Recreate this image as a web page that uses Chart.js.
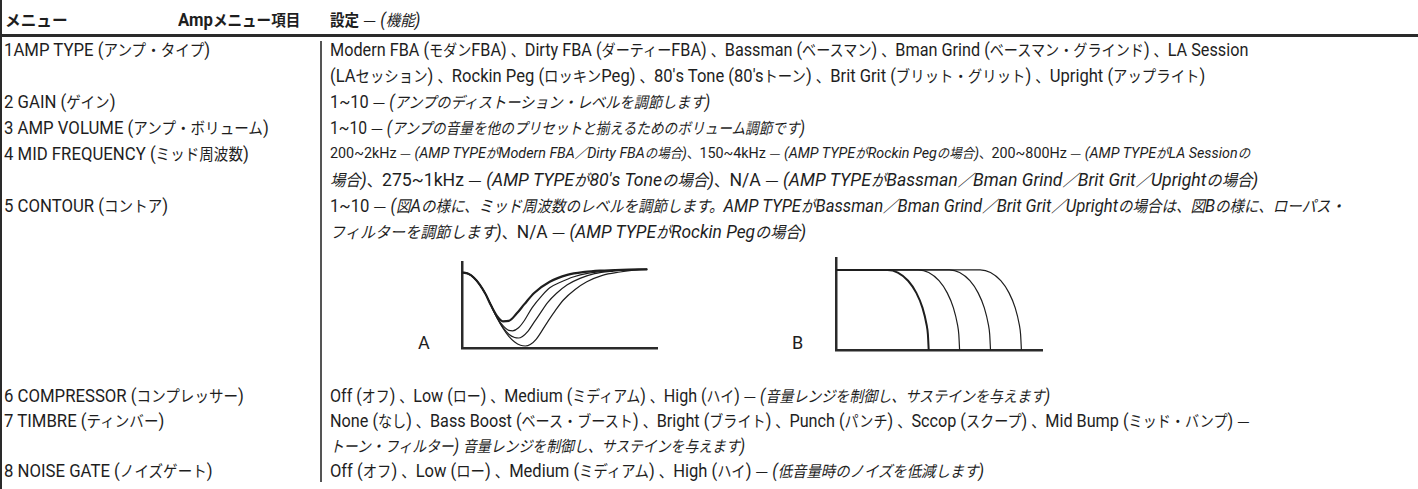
<!DOCTYPE html>
<html>
<head>
<meta charset="utf-8">
<script src="https://cdn.jsdelivr.net/npm/chart.js@4.4.1/dist/chart.umd.min.js"></script>
<style>
html, body { margin: 0; padding: 0; background: #fff; }
body { width: 1418px; height: 489px; position: relative; overflow: hidden;
       font-family: "Roboto", "Noto Sans CJK JP", sans-serif; color: #1e1e1e; }
.t { position: absolute; white-space: nowrap; line-height: 1; font-size: 18px; transform-origin: 0 50%; }
.t i { font-style: italic; }
.t b { font-weight: bold; }
.t .j { font-size: 0.87em; }
.t .d { font-family: "Noto Sans CJK JP"; font-size: 0.85em; font-style: normal; }
.rule { position: absolute; background: #2a2a2a; }
.chartBox { position: absolute; }
</style>
</head>
<body>
<div class="rule" style="left:0;top:0;width:2px;height:489px"></div>
<div class="rule" style="left:0;top:34px;width:1418px;height:3px"></div>
<div class="rule" style="left:320px;top:41px;width:2px;height:441px;background:#555"></div>

<div class="chartBox" id="boxA"><canvas id="chartA"></canvas></div>
<div class="chartBox" id="boxB"><canvas id="chartB"></canvas></div>

<script>
// left column labels
const menuLabels = [
  "1AMP TYPE (アンプ・タイプ)",
  "2 GAIN (ゲイン)",
  "3 AMP VOLUME (アンプ・ボリューム)",
  "4 MID FREQUENCY (ミッド周波数)",
  "5 CONTOUR (コントア)",
  "6 COMPRESSOR (コンプレッサー)",
  "7 TIMBRE (ティンバー)",
  "8 NOISE GATE (ノイズゲート)"
];

// right column, each line is a list of [text, italic]
const settingLines = [
  [["Modern FBA (モダンFBA) 、Dirty FBA (ダーティーFBA) 、Bassman (ベースマン) 、Bman Grind (ベースマン・グラインド) 、LA Session", 0]],
  [[" (LAセッション) 、Rockin Peg (ロッキンPeg) 、80's Tone (80'sトーン) 、Brit Grit (ブリット・グリット) 、Upright (アップライト)", 0]],
  [["1~10 — ", 0], ["(アンプのディストーション・レベルを調節します)", 1]],
  [["1~10 — ", 0], ["(アンプの音量を他のプリセットと揃えるためのボリューム調節です)", 1]],
  [["200~2kHz — ", 0], ["(AMP TYPEがModern FBA／Dirty FBAの場合)", 1], ["、150~4kHz — ", 0], ["(AMP TYPEがRockin Pegの場合)", 1], ["、200~800Hz — ", 0], ["(AMP TYPEがLA Sessionの", 1]],
  [["場合)", 1], ["、275~1kHz — ", 0], ["(AMP TYPEが80's Toneの場合)", 1], ["、N/A — ", 0], ["(AMP TYPEがBassman／Bman Grind／Brit Grit／Uprightの場合)", 1]],
  [["1~10 — ", 0], ["(図Aの様に、ミッド周波数のレベルを調節します。AMP TYPEがBassman／Bman Grind／Brit Grit／Uprightの場合は、図Bの様に、ローパス・", 1]],
  [["フィルターを調節します)", 1], ["、N/A — ", 0], ["(AMP TYPEがRockin Pegの場合)", 1]],
  [["Off (オフ) 、Low (ロー) 、Medium (ミディアム) 、High (ハイ)  — ", 0], ["(音量レンジを制御し、サステインを与えます)", 1]],
  [["None (なし) 、Bass Boost (ベース・ブースト) 、Bright (ブライト) 、Punch (パンチ) 、Sccop (スクープ)  、Mid Bump (ミッド・バンプ) —", 0]],
  [["トーン・フィルター) 音量レンジを制御し、サステインを与えます)", 1]],
  [["Off (オフ) 、Low (ロー) 、Medium (ミディアム) 、High (ハイ)  — ", 0], ["(低音量時のノイズを低減します)", 1]]
];

// figure A: contour curves (x 0-100, y 0-100)
const aX1 = [0, 3, 6, 9, 12, 15, 18, 21, 24, 28, 32, 37, 45, 54, 63, 71, 82, 95];
const aY1 = [88, 86.5, 82, 74, 63, 49, 37, 31, 31.5, 40, 51, 64, 77, 85, 88.5, 90, 91, 91.5];
const aX2 = [0, 3, 6, 9, 12, 15, 18, 21, 24, 26, 29, 32, 36, 41, 45, 51, 57, 65, 74, 84, 95];
const aY2 = [88, 86.5, 82, 74, 63, 49, 35.5, 26, 20.5, 20, 23.5, 32, 47, 61, 70, 77, 82.6, 87, 89.5, 90.8, 91.5];
const aX3 = [0, 3, 6, 9, 12, 15, 18, 21, 24, 27, 29, 31, 34, 37, 40, 44, 48.5, 54, 60.5, 68, 77.6, 86, 95];
const aY3 = [88, 86.5, 82, 74, 63, 49, 35, 24, 16, 12.2, 11.6, 13.5, 20, 30, 40, 53, 63.6, 73.5, 81, 86.5, 89.5, 90.9, 91.5];
const aX4 = [0, 3, 6, 9, 12, 15, 18, 21, 24, 27, 30, 32.5, 35, 38, 43.5, 48, 52, 58, 64, 72, 81, 88, 95];
const aY4 = [88, 86.5, 82, 74, 63, 49, 35, 23, 13.5, 7, 3.2, 2.3, 4, 10, 29, 44, 55.8, 68, 77, 84.5, 88.4, 90.6, 91.5];

// figure B: low pass curves
const bX1 = [0, 25, 30, 35, 39, 42, 44, 44.6, 45];
const bX2 = [0, 40, 45, 50, 54, 57, 59, 59.6, 60];
const bX3 = [0, 55, 60, 65, 69, 72, 74, 74.6, 75];
const bX4 = [0, 70, 75, 80, 84, 87, 89, 89.6, 90];
const bY = [87, 87, 84.2, 75.3, 62.1, 45.8, 27.2, 17.3, 0];

// layout
const rowY = [50, 76, 102, 128, 154, 180, 206, 232, 396, 421, 446, 471];
const menuRow = [0, 2, 3, 4, 6, 8, 9, 11];
const lineEnd = [1248, 1205, 710, 805, 1250, 1258, 1345, 806, 1050, 1250, 745, 984];
const lineSize = [18, 18, 18, 18, 15.5, 18.5, 18.5, 18.5, 18, 18, 18, 18];

function wrapCJK(s) {
  return s.replace(/([\u3000-\u30ff\u3400-\u9fff\uff00-\uffef]+)/g, '<span class="j">$1</span>')
          .replace(/—/g, '<span class="d">—</span>');
}

function addText(html, x, y) {
  const d = document.createElement("div");
  d.className = "t";
  d.innerHTML = html;
  d.style.left = x + "px";
  d.style.top = (y - 9) + "px";
  document.body.appendChild(d);
  return d;
}

const leftK = 0.93;
addText("<b>" + wrapCJK("メニュー") + "</b>", 5, 20);
const ampHead = addText("<b>Amp" + wrapCJK("メニュー項目") + "</b>", 0, 20);
ampHead.style.transform = "scaleX(" + leftK + ")";
ampHead.style.left = (300 - ampHead.offsetWidth * leftK) + "px";
addText("<b>" + wrapCJK("設定") + "</b> " + wrapCJK("—") + " <i>(" + wrapCJK("機能") + ")</i>", 330, 20)
  .style.transform = "scaleX(" + leftK + ")";
menuLabels.forEach((s, i) => {
  addText(wrapCJK(s), 4, rowY[menuRow[i]]).style.transform = "scaleX(" + leftK + ")";
});

settingLines.forEach((segs, i) => {
  const html = segs.map(p => p[1] ? "<i>" + wrapCJK(p[0]) + "</i>" : wrapCJK(p[0])).join("");
  const el = addText(html, 330, rowY[i]);
  el.style.fontSize = lineSize[i] + "px";
  el.style.top = (rowY[i] - lineSize[i] / 2) + "px";
  el.style.transform = "scaleX(" + ((lineEnd[i] - 330) / el.offsetWidth) + ")";
});

addText("A", 418, 343);
addText("B", 792, 343);

function lineSet(xs, ys, w) {
  return {
    data: xs.map((x, i) => ({ x: x, y: ys[i] })),
    borderColor: "#1e1e1e", borderWidth: w, pointRadius: 0,
    showLine: true, fill: false, cubicInterpolationMode: "monotone", clip: false
  };
}

function axis() {
  return {
    type: "linear", min: 0, max: 100,
    grid: { display: false, drawTicks: false },
    ticks: { display: false },
    border: { display: true, width: 2.5, color: "#2a2a2a" }
  };
}

function makeChart(id, boxId, sets, left, top, w, h) {
  const c = document.getElementById(id);
  c.width = w + 20; c.height = h + 20;
  const chart = new Chart(c, {
    type: "scatter",
    data: { datasets: sets },
    options: {
      responsive: false, animation: false,
      layout: { padding: 10 },
      plugins: { legend: { display: false }, tooltip: { enabled: false } },
      scales: { x: axis(), y: axis() }
    }
  });
  const ca = chart.chartArea;
  const box = document.getElementById(boxId);
  box.style.left = (left - ca.left) + "px";
  box.style.top = (top - ca.top) + "px";
  return chart;
}

makeChart("chartA", "boxA", [
  lineSet(aX1, aY1, 2.2), lineSet(aX2, aY2, 1.2), lineSet(aX3, aY3, 1.2), lineSet(aX4, aY4, 1.2)
], 462, 262, 195, 86);

makeChart("chartB", "boxB", [
  lineSet(bX1, bY, 2), lineSet(bX2, bY, 1.2), lineSet(bX3, bY, 1.2), lineSet(bX4, bY, 1.2)
], 836, 258, 206, 92);
</script>
</body>
</html>
